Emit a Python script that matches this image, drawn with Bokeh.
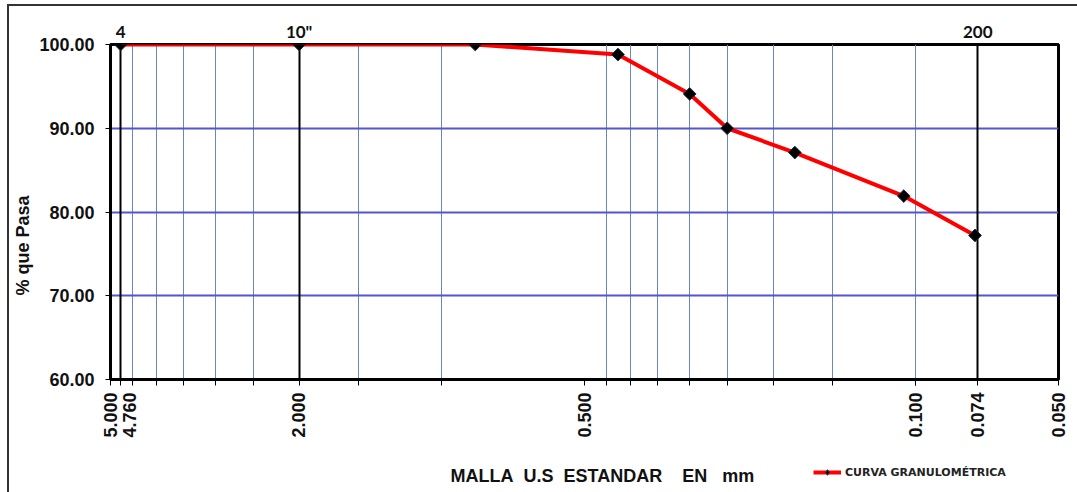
from math import pi

from bokeh.embed import file_html
from bokeh.resources import INLINE
from bokeh.layouts import column
from bokeh.plotting import figure
from bokeh.models import (FixedTicker, LogAxis, Grid, Title, Label, Legend,
                          LegendItem, NumeralTickFormatter, Range1d)

# Grain-size analysis: sieve opening (mm) vs. percent passing
sieve_mm = [4.76, 2.00, 0.85, 0.425, 0.30, 0.25, 0.18, 0.106, 0.075]
pct_passing = [100.0, 100.0, 100.0, 98.8, 94.1, 90.0, 87.1, 81.9, 77.2]

# bottom axis labels (4.760 is pushed half a line to the right of its tick)
x_tick_values = [5.0, 4.76, 2.0, 0.5, 0.1, 0.074, 0.05]
x_tick_labels = ["5.000", "\n4.760", "2.000", "0.500", "0.100", "0.074", "0.050"]

# light vertical reference lines (also minor ticks)
grid_values = [4.5, 4.0, 3.5, 3.0, 2.5, 1.5, 1.0, 0.45, 0.40, 0.35, 0.30,
               0.25, 0.20, 0.15, 0.10]

# key sieves marked with heavy lines and labelled on top
mesh_values = [4.76, 2.0, 0.074]
mesh_labels = ["4", '10"', "200"]

y_ticks = [60, 70, 80, 90, 100]
h_grid = [70, 80, 90]

FONT = "Liberation Sans"
NB = "\u00a0"

p = figure(width=1068, height=444, x_axis_type="log",
           x_range=Range1d(5.0, 0.05), y_range=Range1d(60, 100),
           output_backend="svg", toolbar_location=None,
           min_border_left=101, min_border_right=19,
           min_border_top=38, min_border_bottom=71)

p.outline_line_color = "black"
p.outline_line_width = 3
p.background_fill_color = "white"

# vertical grid
p.xgrid.ticker = FixedTicker(ticks=grid_values)
p.xgrid.grid_line_color = "#6a88bd"
p.xgrid.grid_line_width = 1
mesh_grid = Grid(dimension=0, ticker=FixedTicker(ticks=mesh_values),
                 grid_line_color="black", grid_line_width=2)
p.add_layout(mesh_grid)

# horizontal grid
p.ygrid.ticker = FixedTicker(ticks=h_grid)
p.ygrid.grid_line_color = "#5555cc"
p.ygrid.grid_line_width = 2

# bottom axis
xa = p.xaxis[0]
xa.ticker = FixedTicker(ticks=x_tick_values, minor_ticks=grid_values)
xa.major_label_overrides = dict(zip(x_tick_values, x_tick_labels))
xa.major_label_orientation = pi / 2
xa.major_label_text_font = FONT
xa.major_label_text_font_style = "bold"
xa.major_label_text_font_size = "18px"
xa.major_label_text_color = "#111"
xa.major_label_text_line_height = 0.9
xa.major_label_standoff = 7
xa.axis_line_color = "black"
xa.axis_line_width = 3
xa.major_tick_in = 0
xa.major_tick_out = 6
xa.minor_tick_in = 0
xa.minor_tick_out = 6
xa.major_tick_line_color = "black"
xa.minor_tick_line_color = "black"

# left axis
ya = p.yaxis[0]
ya.ticker = FixedTicker(ticks=y_ticks)
ya.formatter = NumeralTickFormatter(format="0.00")
ya.major_label_text_font = FONT
ya.major_label_text_font_style = "bold"
ya.major_label_text_font_size = "18px"
ya.major_label_text_color = "#111"
ya.major_label_standoff = 11
ya.axis_line_color = "black"
ya.axis_line_width = 3
ya.major_tick_in = 0
ya.major_tick_out = 5
ya.minor_tick_line_color = None

# sieve numbers on top
top = LogAxis(ticker=FixedTicker(ticks=mesh_values),
              major_label_overrides=dict(zip(mesh_values, mesh_labels)),
              axis_line_color=None, major_tick_line_color=None,
              minor_tick_line_color=None, major_tick_out=0, major_tick_in=0,
              major_label_text_font="Lato", major_label_text_font_style="bold",
              major_label_text_font_size="17px", major_label_text_color="#111",
              major_label_standoff=3)
p.add_layout(top, "above")

# grading curve
line_style = dict(line_color="#ff0000", line_width=4)
marker_style = dict(marker="square", angle=pi / 4, size=9, fill_color="black",
                    line_color="#1c2c48", line_width=1)
p.line(sieve_mm, pct_passing, **line_style)
p.scatter(sieve_mm, pct_passing, **marker_style)

# y-axis title
p.add_layout(Title(text="% que Pasa", align="left", offset=84,
                   vertical_align="top", standoff=4,
                   text_font=FONT, text_font_style="bold",
                   text_font_size="18px", text_color="#111"), "left")

# footer strip under the chart: x-axis title and legend.
# Its frame lines up with the chart frame, so x is measured in page pixels.
foot = figure(width=1068, height=42, x_range=Range1d(110, 1058),
              y_range=Range1d(0, 42), output_backend="svg",
              toolbar_location=None, x_axis_location=None,
              y_axis_location=None, min_border=0)
foot.outline_line_color = None
foot.grid.visible = False

foot.add_layout(Label(x=450, y=17,
                      text=f"MALLA{NB} U.S{NB} ESTANDAR{NB}{NB}{NB} EN{NB}{NB} mm",
                      text_align="left", text_baseline="middle",
                      text_font=FONT, text_font_style="bold",
                      text_font_size="18px", text_color="#111"))

# legend swatch renderers (no visible points of their own)
nan = float("nan")
key_line = foot.line([nan], [nan], **line_style)
key_pts = foot.scatter([nan], [nan], marker="diamond", size=11,
                       fill_color="black", line_color="#1c2c48", line_width=1)
legend = Legend(items=[LegendItem(label="CURVA GRANULOMÉTRICA",
                                  renderers=[key_line, key_pts])],
                location=(703, 13), padding=0, margin=0,
                glyph_width=28, glyph_height=14, label_standoff=4,
                label_height=14,
                label_text_font="DejaVu Sans", label_text_font_style="bold",
                label_text_font_size="11px", label_text_color="#222",
                border_line_color=None, background_fill_alpha=0)
foot.add_layout(legend)

page = column(p, foot, spacing=0)
page.styles = {"margin-left": "7px", "margin-top": "4px",
               "border-left": "2px solid #333", "border-top": "2px solid #333"}

open("out.html", "w").write(file_html(page, INLINE))
